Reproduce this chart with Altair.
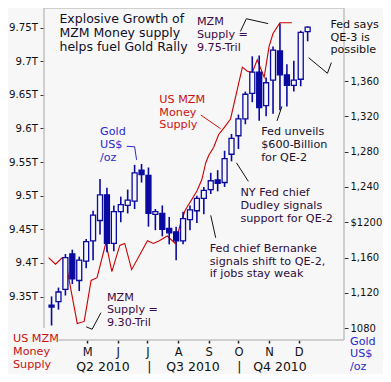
import altair as alt
import pandas as pd

# ---------------- data ----------------
candle_dates = [
    "2010-03-26", "2010-04-02", "2010-04-09", "2010-04-16", "2010-04-23", "2010-04-30",
    "2010-05-07", "2010-05-14", "2010-05-21", "2010-05-28", "2010-06-04", "2010-06-11",
    "2010-06-18", "2010-06-25", "2010-07-02", "2010-07-09", "2010-07-16", "2010-07-23",
    "2010-07-30", "2010-08-06", "2010-08-13", "2010-08-20", "2010-08-27", "2010-09-03",
    "2010-09-10", "2010-09-17", "2010-09-24", "2010-10-01", "2010-10-08", "2010-10-15",
    "2010-10-22", "2010-10-29", "2010-11-05", "2010-11-12", "2010-11-19", "2010-11-26",
    "2010-12-03", "2010-12-10",
]
gold_open = [1106, 1110, 1124, 1164, 1134, 1156, 1179, 1202, 1231, 1176, 1212, 1219,
             1224, 1259, 1253, 1209, 1210, 1193, 1189, 1179, 1203, 1213, 1227, 1237,
             1248, 1245, 1277, 1298, 1317, 1346, 1370, 1332, 1361, 1394, 1367, 1355,
             1362, 1416]
gold_high = [1116, 1126, 1164, 1169, 1161, 1181, 1213, 1249, 1239, 1219, 1229, 1237,
             1265, 1266, 1262, 1215, 1219, 1206, 1195, 1212, 1219, 1230, 1240, 1256,
             1259, 1281, 1300, 1322, 1348, 1388, 1389, 1364, 1399, 1425, 1379, 1383,
             1417, 1422]
gold_low = [1083, 1101, 1117, 1130, 1122, 1148, 1157, 1186, 1166, 1167, 1200, 1210,
            1215, 1245, 1195, 1191, 1184, 1175, 1157, 1175, 1191, 1199, 1209, 1232,
            1235, 1240, 1269, 1283, 1311, 1336, 1315, 1320, 1323, 1327, 1331, 1348,
            1354, 1405]
gold_close = [1104, 1121, 1160, 1136, 1157, 1178, 1208, 1231, 1176, 1212, 1220, 1225,
              1256, 1254, 1210, 1212, 1192, 1188, 1179, 1204, 1214, 1227, 1236, 1247,
              1244, 1272, 1295, 1317, 1345, 1370, 1330, 1358, 1395, 1367, 1355, 1361,
              1415, 1421]

mzm_dates = [
    "2010-03-23", "2010-03-30", "2010-04-06", "2010-04-09", "2010-04-21", "2010-04-28",
    "2010-05-01", "2010-05-05", "2010-05-11", "2010-05-20", "2010-05-26", "2010-06-03",
    "2010-06-08", "2010-06-15", "2010-07-01", "2010-07-07", "2010-07-13", "2010-07-21",
    "2010-07-29", "2010-08-03", "2010-08-08", "2010-08-20", "2010-08-25", "2010-08-29",
    "2010-09-01", "2010-09-06", "2010-09-11", "2010-09-16", "2010-09-23", "2010-10-05",
    "2010-10-10", "2010-10-15", "2010-10-20", "2010-10-27", "2010-11-01", "2010-11-05",
    "2010-11-12", "2010-11-24",
]
mzm_trillions = [9.408, 9.398, 9.408, 9.404, 9.310, 9.313, 9.339, 9.374, 9.378, 9.430,
                 9.387, 9.426, 9.429, 9.390, 9.433, 9.429, 9.433, 9.440, 9.429, 9.456,
                 9.478, 9.507, 9.524, 9.549, 9.560, 9.572, 9.591, 9.600, 9.614, 9.691,
                 9.685, 9.683, 9.702, 9.676, 9.722, 9.741, 9.757, 9.757]

mzm_ticks = [9.35, 9.4, 9.45, 9.5, 9.55, 9.6, 9.65, 9.7, 9.75]
gold_ticks = [1080, 1120, 1160, 1200, 1240, 1280, 1320, 1360]

quarter_labels = ["Q2 2010", "|", "Q3 2010", "|", "Q4 2010"]
quarter_dates = ["2010-05-17", "2010-07-03", "2010-08-16", "2010-10-02", "2010-11-12"]

title_text = "Explosive Growth of\nMZM Money supply\nhelps fuel Gold Rally"
title_date = "2010-04-03"
title_level = 9.7623

note_texts = [
    "MZM\nSupply =\n9.75-Tril",
    "US MZM\nMoney\nSupply",
    "Gold\nUS$\n/oz",
    "Fed unveils\n$600-Billion\nfor QE-2",
    "NY Fed chief\nDudley signals\nsupport for QE-2",
    "Fed chief Bernanke\nsignals shift to QE-2,\nif jobs stay weak",
    "MZM\nSupply =\n9.30-Tril",
    "Fed says\nQE-3 is\npossible",
]
note_dates = ["2010-08-20", "2010-07-13", "2010-05-14", "2010-10-24", "2010-10-03",
              "2010-09-02", "2010-05-21", "2011-01-02"]
note_levels = [9.7580, 9.6422, 9.5944, 9.5944, 9.5033, 9.4208, 9.3484, 9.7536]
note_colors = ["#3d0a45", "#cc1111", "#2a2acc", "#141432", "#2d0d3d", "#2d0d3d",
               "#3d0a45", "#101010"]

# leader lines (id, date, level)
leader_ids = ["a", "a", "a", "b", "b", "c", "c", "c", "d", "d", "d", "e", "e",
              "f", "f", "g", "g", "h", "h", "h"]
leader_dates = ["2010-10-03", "2010-10-09", "2010-10-31",
                "2010-08-24", "2010-09-13",
                "2010-06-10", "2010-06-18", "2010-06-20",
                "2010-04-30", "2010-05-06", "2010-05-15",
                "2010-11-09", "2010-11-14",
                "2010-09-29", "2010-10-11",
                "2010-09-03", "2010-09-08",
                "2010-12-11", "2010-12-30", "2011-01-03"]
leader_levels = [9.7442, 9.7630, 9.7558,
                 9.6198, 9.5995,
                 9.5734, 9.5727, 9.5532,
                 9.3050, 9.3014, 9.3260,
                 9.6111, 9.6328,
                 9.5488, 9.5213,
                 9.4707, 9.4374,
                 9.7051, 9.6820, 9.6979]
leader_colors = {"a": "#111111", "b": "#cc1111", "c": "#2a2acc", "d": "#111111",
                 "e": "#111111", "f": "#111111", "g": "#111111", "h": "#111111"}

# ---------------- style ----------------
FONT = "DejaVu Sans"
BG = "#f7f7f7"
BLUE = "#0a0aa0"
RED = "#cc0000"
FRAME = "#c2c2c2"
W, H = 300, 332

x_domain = [alt.DateTime(year=2010, month=3, date=23, hours=10, utc=True),
            alt.DateTime(year=2011, month=1, date=10, hours=17, utc=True)]
month_ticks = [alt.DateTime(year=2010, month=m, date=1, utc=True) for m in range(5, 13)]

x_axis = alt.Axis(values=month_ticks,
                  labelExpr="substring(utcFormat(datum.value, '%b'), 0, 1)",
                  domain=False, grid=False, tickSize=3, tickColor="#222222",
                  tickWidth=1.5, labelFont=FONT, labelFontSize=11.5, labelColor="#111111",
                  labelPadding=3.5, labelFlush=False, labelOverlap=False, title=None)
x_scale = alt.Scale(type="utc", domain=x_domain)


def xenc(field):
    return alt.X(f"{field}:T", scale=x_scale, axis=x_axis, title=None)


mzm_scale = alt.Scale(domain=[9.2854, 9.779], zero=False, nice=False)
gold_scale = alt.Scale(domain=[1066.6, 1442.7], zero=False, nice=False)

mzm_axis = alt.Axis(orient="left", values=mzm_ticks,
                    labelExpr="format(datum.value, '.2~f') + 'T'",
                    domain=False, grid=False, tickSize=4, tickColor="#333333",
                    labelPadding=2.5, labelFont=FONT, labelFontSize=10.2,
                    labelColor="#111111", title=None)
gold_axis = alt.Axis(orient="right", values=gold_ticks,
                     labelExpr="datum.value == 1200 ? '$1200' : (datum.value == 1080 ? '1080' : format(datum.value, ','))",
                     domain=False, grid=False, tickSize=4, tickColor="#333333",
                     labelPadding=2, labelFont=FONT, labelFontSize=10,
                     labelColor="#111111", title=None)

# ---------------- tables ----------------
candles = pd.DataFrame({"date": candle_dates, "open": gold_open, "high": gold_high,
                        "low": gold_low, "close": gold_close})
candles["fill"] = [BLUE if c < o else BG for o, c in zip(gold_open, gold_close)]

mzm = pd.DataFrame({"date": mzm_dates, "mzm": mzm_trillions})

notes = pd.DataFrame({"text": note_texts, "date": note_dates, "level": note_levels,
                      "color": note_colors})
title_df = pd.DataFrame({"text": [title_text], "date": [title_date], "level": [title_level]})
leaders = pd.DataFrame({"id": leader_ids, "date": leader_dates, "level": leader_levels})
leaders["k"] = range(len(leaders))
leaders["color"] = [leader_colors[i] for i in leader_ids]
quarters = pd.DataFrame({"text": quarter_labels, "date": quarter_dates})
one = pd.DataFrame({"a": [0]})

# ---------------- layers ----------------
mzm_line = alt.Chart(mzm).mark_line(color=RED, strokeWidth=1.1).encode(
    x=xenc("date"), y=alt.Y("mzm:Q", scale=mzm_scale, axis=mzm_axis))

wicks = alt.Chart(candles).mark_rule(color=BLUE, strokeWidth=1.6).encode(
    x=xenc("date"), y=alt.Y("low:Q", scale=gold_scale, axis=gold_axis), y2="high:Q")

bodies = alt.Chart(candles).mark_bar(size=5, stroke=BLUE, strokeWidth=1.3).encode(
    x=xenc("date"), y=alt.Y("open:Q", scale=gold_scale, axis=None), y2="close:Q",
    fill=alt.Fill("fill:N", scale=None))

leader_lines = alt.Chart(leaders).mark_line(strokeWidth=1).encode(
    x=xenc("date"), y=alt.Y("level:Q", scale=mzm_scale, axis=None),
    detail="id:N", order="k:Q", color=alt.Color("color:N", scale=None))

note_layer = alt.Chart(notes).mark_text(
    align="left", baseline="middle", lineBreak="\n", lineHeight=12.7, font=FONT,
    fontSize=11.2).encode(
    x=xenc("date"), y=alt.Y("level:Q", scale=mzm_scale, axis=None), text="text:N",
    color=alt.Color("color:N", scale=None))

title_layer = alt.Chart(title_df).mark_text(
    align="left", baseline="middle", lineBreak="\n", lineHeight=14, font=FONT,
    fontSize=12.5, color="#101028").encode(
    x=xenc("date"), y=alt.Y("level:Q", scale=mzm_scale, axis=None), text="text:N")

quarter_layer = alt.Chart(quarters).mark_text(
    align="center", baseline="middle", font=FONT, fontSize=12.5, color="#111111").encode(
    x=xenc("date"), y=alt.value(359), text="text:N")

left_label = alt.Chart(one).mark_text(
    align="left", baseline="middle", lineBreak="\n", lineHeight=12.7, font=FONT,
    fontSize=11.2, color="#cc1111", text="US MZM\nMoney\nSupply").encode(
    x=alt.value(-31), y=alt.value(331.4))

right_label = alt.Chart(one).mark_text(
    align="left", baseline="middle", lineBreak="\n", lineHeight=12.4, font=FONT,
    fontSize=11.2, color="#2a2acc", text="Gold\nUS$\n/oz").encode(
    x=alt.value(306), y=alt.value(334))

frame_top = alt.Chart(one).mark_rule(color=FRAME, strokeWidth=1.5).encode(
    x=alt.value(0), x2=alt.value(W), y=alt.value(0))
frame_left = alt.Chart(one).mark_rule(color=FRAME, strokeWidth=1.5).encode(
    x=alt.value(0), y=alt.value(0), y2=alt.value(320))
frame_right = alt.Chart(one).mark_rule(color=FRAME, strokeWidth=1.5).encode(
    x=alt.value(W), y=alt.value(0), y2=alt.value(H))
frame_bottom = alt.Chart(one).mark_rule(color=FRAME, strokeWidth=1.5).encode(
    x=alt.value(14.6), x2=alt.value(W), y=alt.value(H))

chart = alt.layer(
    frame_top, frame_left, frame_right, frame_bottom,
    mzm_line, wicks, bodies, leader_lines, note_layer, title_layer,
    quarter_layer, left_label, right_label,
).resolve_scale(y="independent").properties(
    width=W, height=H,
    autosize=alt.AutoSizeParams(type="none"),
    padding={"left": 36, "top": 0, "right": 39, "bottom": 34},
    background=BG,
).configure_view(strokeWidth=0)

chart.save("out.html", embed_options={"renderer": "svg", "actions": False})
